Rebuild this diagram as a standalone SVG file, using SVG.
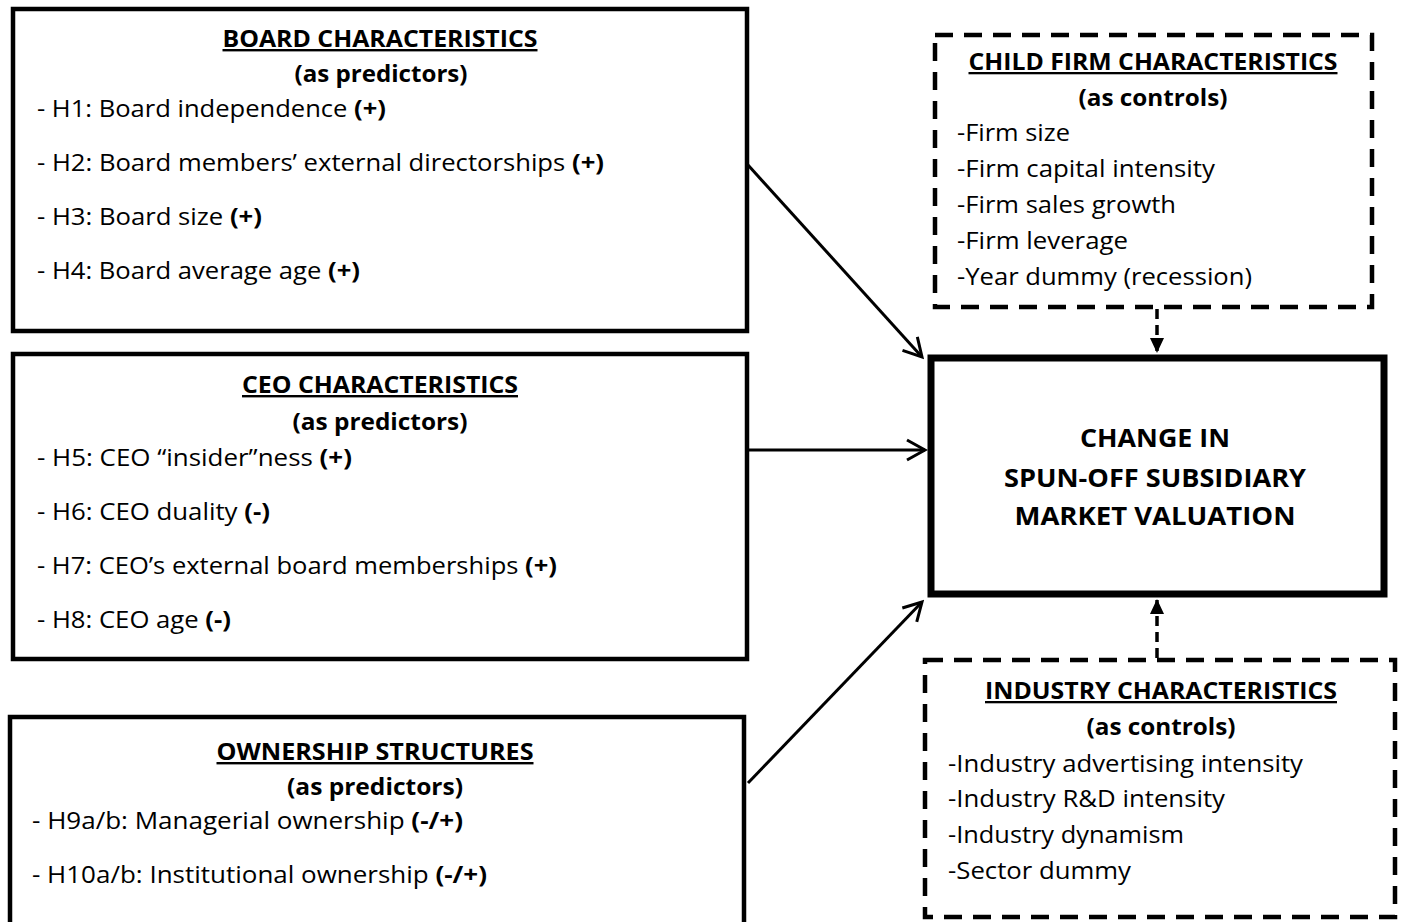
<svg xmlns="http://www.w3.org/2000/svg" width="1405" height="922" viewBox="0 0 1405 922">
<style>
  .box{fill:#fff;stroke:#000;stroke-width:4.5}
  .main{fill:#fff;stroke:#000;stroke-width:7}
  .dbox{fill:#fff;stroke:#000;stroke-width:4.5;stroke-dasharray:18 11}
  text{font-family:"Open Sans","Liberation Sans",sans-serif;fill:#000}
  .l{font-size:24px}
  .r{font-size:23px}
  .t{font-weight:bold;text-decoration:underline}
  .b{font-weight:bold}
  .c{font-weight:bold;font-size:25px}
  .conn{stroke:#000;stroke-width:3;fill:none}
  .dconn{stroke:#000;stroke-width:3.5;fill:none;stroke-dasharray:10 6}
</style>
<defs>
  <marker id="open" markerWidth="24" markerHeight="24" refX="21" refY="12" orient="auto" markerUnits="userSpaceOnUse">
    <path d="M3,2 L21,12 L3,22" fill="none" stroke="#000" stroke-width="3"/>
  </marker>
  <marker id="solid" markerWidth="16" markerHeight="14" refX="15" refY="7" orient="auto" markerUnits="userSpaceOnUse">
    <path d="M0,0 L15,7 L0,14 Z" fill="#000"/>
  </marker>
</defs>

<g id="board">
  <rect class="box" x="13" y="9" width="734" height="322"/>
  <text class="l t" x="380" y="47" text-anchor="middle" textLength="315" lengthAdjust="spacingAndGlyphs">BOARD CHARACTERISTICS</text>
  <text class="l b" x="381" y="82" text-anchor="middle" textLength="173" lengthAdjust="spacingAndGlyphs">(as predictors)</text>
  <text class="l" x="37" y="117" textLength="349" lengthAdjust="spacingAndGlyphs">- H1: Board independence <tspan class="b">(+)</tspan></text>
  <text class="l" x="37" y="171" textLength="567" lengthAdjust="spacingAndGlyphs">- H2: Board members’ external directorships <tspan class="b">(+)</tspan></text>
  <text class="l" x="37" y="225" textLength="225" lengthAdjust="spacingAndGlyphs">- H3: Board size <tspan class="b">(+)</tspan></text>
  <text class="l" x="37" y="279" textLength="323" lengthAdjust="spacingAndGlyphs">- H4: Board average age <tspan class="b">(+)</tspan></text>
</g>

<g id="ceo">
  <rect class="box" x="13" y="354" width="734" height="305"/>
  <text class="l t" x="380" y="393" text-anchor="middle" textLength="276" lengthAdjust="spacingAndGlyphs">CEO CHARACTERISTICS</text>
  <text class="l b" x="380" y="430" text-anchor="middle" textLength="175" lengthAdjust="spacingAndGlyphs">(as predictors)</text>
  <text class="l" x="37" y="466" textLength="315" lengthAdjust="spacingAndGlyphs">- H5: CEO “insider”ness <tspan class="b">(+)</tspan></text>
  <text class="l" x="37" y="520" textLength="233" lengthAdjust="spacingAndGlyphs">- H6: CEO duality <tspan class="b">(-)</tspan></text>
  <text class="l" x="37" y="574" textLength="520" lengthAdjust="spacingAndGlyphs">- H7: CEO’s external board memberships <tspan class="b">(+)</tspan></text>
  <text class="l" x="37" y="628" textLength="194" lengthAdjust="spacingAndGlyphs">- H8: CEO age <tspan class="b">(-)</tspan></text>
</g>

<g id="ownership">
  <rect class="box" x="10" y="717" width="734" height="215"/>
  <text class="l t" x="375" y="760" text-anchor="middle" textLength="317" lengthAdjust="spacingAndGlyphs">OWNERSHIP STRUCTURES</text>
  <text class="l b" x="375" y="795" text-anchor="middle" textLength="176" lengthAdjust="spacingAndGlyphs">(as predictors)</text>
  <text class="l" x="32" y="829" textLength="431" lengthAdjust="spacingAndGlyphs">- H9a/b: Managerial ownership <tspan class="b">(-/+)</tspan></text>
  <text class="l" x="32" y="883" textLength="455" lengthAdjust="spacingAndGlyphs">- H10a/b: Institutional ownership <tspan class="b">(-/+)</tspan></text>
</g>

<g id="child">
  <rect class="dbox" x="935" y="35" width="437" height="272"/>
  <text class="r t" x="1153" y="70" text-anchor="middle" textLength="369" lengthAdjust="spacingAndGlyphs">CHILD FIRM CHARACTERISTICS</text>
  <text class="r b" x="1153" y="106" text-anchor="middle" textLength="149" lengthAdjust="spacingAndGlyphs">(as controls)</text>
  <text class="r" x="957" y="141" textLength="113" lengthAdjust="spacingAndGlyphs">-Firm size</text>
  <text class="r" x="957" y="177" textLength="258" lengthAdjust="spacingAndGlyphs">-Firm capital intensity</text>
  <text class="r" x="957" y="213" textLength="219" lengthAdjust="spacingAndGlyphs">-Firm sales growth</text>
  <text class="r" x="957" y="249" textLength="171" lengthAdjust="spacingAndGlyphs">-Firm leverage</text>
  <text class="r" x="957" y="285" textLength="295" lengthAdjust="spacingAndGlyphs">-Year dummy (recession)</text>
</g>

<g id="outcome">
  <rect class="main" x="931" y="358" width="453" height="236"/>
  <text class="c" x="1155" y="447" text-anchor="middle" textLength="150" lengthAdjust="spacingAndGlyphs">CHANGE IN</text>
  <text class="c" x="1155" y="487" text-anchor="middle" textLength="302" lengthAdjust="spacingAndGlyphs">SPUN-OFF SUBSIDIARY</text>
  <text class="c" x="1155" y="525" text-anchor="middle" textLength="281" lengthAdjust="spacingAndGlyphs">MARKET VALUATION</text>
</g>

<g id="industry">
  <rect class="dbox" x="925" y="660" width="470" height="257"/>
  <text class="r t" x="1161" y="699" text-anchor="middle" textLength="352" lengthAdjust="spacingAndGlyphs">INDUSTRY CHARACTERISTICS</text>
  <text class="r b" x="1161" y="735" text-anchor="middle" textLength="149" lengthAdjust="spacingAndGlyphs">(as controls)</text>
  <text class="r" x="948" y="772" textLength="355" lengthAdjust="spacingAndGlyphs">-Industry advertising intensity</text>
  <text class="r" x="948" y="807" textLength="277" lengthAdjust="spacingAndGlyphs">-Industry R&amp;D intensity</text>
  <text class="r" x="948" y="843" textLength="236" lengthAdjust="spacingAndGlyphs">-Industry dynamism</text>
  <text class="r" x="948" y="879" textLength="183" lengthAdjust="spacingAndGlyphs">-Sector dummy</text>
</g>

<g id="connectors">
  <line class="conn" x1="748" y1="165" x2="922" y2="357" marker-end="url(#open)"/>
  <line class="conn" x1="748" y1="450" x2="925" y2="450" marker-end="url(#open)"/>
  <line class="conn" x1="748" y1="783" x2="922" y2="602" marker-end="url(#open)"/>
  <line class="dconn" x1="1157" y1="309" x2="1157" y2="353" marker-end="url(#solid)"/>
  <line class="dconn" x1="1157" y1="658" x2="1157" y2="599" marker-end="url(#solid)"/>
</g>
</svg>
